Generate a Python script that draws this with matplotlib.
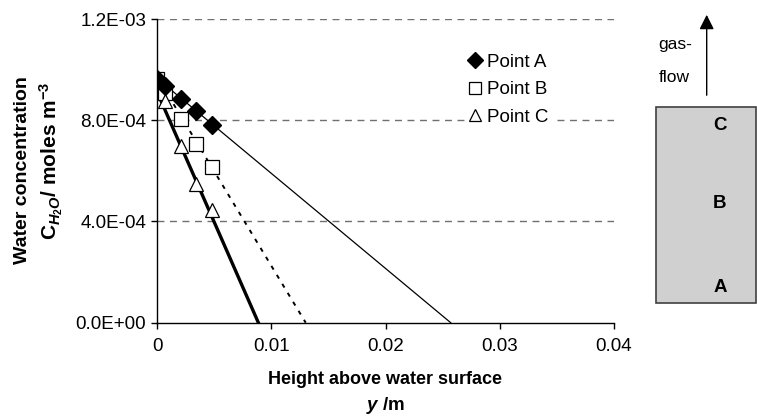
import matplotlib
matplotlib.use('Agg')
import matplotlib.pyplot as plt
import numpy as np
from matplotlib.patches import Rectangle, FancyArrowPatch

plt.rcParams['font.family'] = ['Liberation Sans', 'DejaVu Sans']
plt.rcParams['mathtext.fontset'] = 'custom'
plt.rcParams['mathtext.rm'] = 'Liberation Sans:bold'
plt.rcParams['mathtext.it'] = 'Liberation Sans:italic:bold'
plt.rcParams['mathtext.bf'] = 'Liberation Sans:bold'

# measured heights above the water surface (m)
heights = [0.0, 0.0007, 0.00205, 0.0034, 0.0048]

# water concentration at each sampling point (moles m^-3)
conc_a = [9.64e-4, 9.37e-4, 8.85e-4, 8.36e-4, 7.83e-4]
conc_b = [9.64e-4, 9.08e-4, 8.05e-4, 7.08e-4, 6.14e-4]
conc_c = [9.64e-4, 8.75e-4, 7.00e-4, 5.50e-4, 4.46e-4]

# linear fits: intercept and slope (drawn down to zero concentration)
fit_intercept = [9.65e-4, 9.70e-4, 9.10e-4]
fit_slope = [-0.03755, -0.07462, -0.1028]

series_labels = ['Point A', 'Point B', 'Point C']
y_ticks = [0.0, 4e-4, 8e-4, 1.2e-3]
y_tick_labels = ['0.0E+00', '4.0E-04', '8.0E-04', '1.2E-03']
x_ticks = [0, 0.01, 0.02, 0.03, 0.04]
x_tick_labels = ['0', '0.01', '0.02', '0.03', '0.04']

W, H = 757, 416
fig = plt.figure(figsize=(W / 100, H / 100), dpi=100)
ax = fig.add_axes([157.3 / W, 1 - 322.7 / H, (614 - 157.3) / W, (322.7 - 19) / H])

# gridlines
for yt in y_ticks[1:]:
    ax.axhline(yt, color='#707070', lw=1.0, ls=(0, (5, 4)), zorder=1)

# fit lines
styles = [dict(color='black', lw=0.9, ls='-'),
          dict(color='black', lw=1.4, ls=(0, (2.2, 3.2))),
          dict(color='black', lw=2.4, ls='-')]
for b0, m, st in zip(fit_intercept, fit_slope, styles):
    x_end = -b0 / m
    xs = np.array([0.0, x_end])
    ax.plot(xs, b0 + m * xs, zorder=2, **st)

# data points
ax.plot(heights, conc_a, ls='none', marker='D', ms=9, mfc='black', mec='black',
        label=series_labels[0], zorder=4)
ax.plot(heights, conc_b, ls='none', marker='s', ms=9.5, mfc='white', mec='black',
        mew=0.9, label=series_labels[1], zorder=3)
ax.plot(heights, conc_c, ls='none', marker='^', ms=10, mfc='white', mec='black',
        mew=0.9, label=series_labels[2], zorder=3)

ax.set_xlim(0, 0.04)
ax.set_ylim(0, 1.2e-3)
ax.set_xticks(x_ticks)
ax.set_xticklabels(x_tick_labels)
ax.set_yticks(y_ticks)
ax.set_yticklabels(y_tick_labels)
ax.tick_params(axis='both', direction='out', length=4, width=1, labelsize=13.5, color='black')
ax.tick_params(axis='y', pad=4)
ax.tick_params(axis='x', pad=7)
for s in ['top', 'right']:
    ax.spines[s].set_visible(False)
for s in ['left', 'bottom']:
    ax.spines[s].set_linewidth(1.0)

leg = ax.legend(loc='upper left', bbox_to_anchor=(465 / W, 1 - 50 / H),
                bbox_transform=fig.transFigure, frameon=True, facecolor='white',
                edgecolor='none', framealpha=1, fancybox=False, fontsize=13.5,
                handlelength=0.7, handletextpad=0.25, borderpad=0.2,
                borderaxespad=0, labelspacing=0.55, markerscale=0.85)

# axis labels
fig.text(23 / W, 1 - 170.5 / H, 'Water concentration', rotation=90, ha='center',
         va='center', fontsize=14, fontweight='bold')
fig.text(51 / W, 1 - 160.5 / H, r'C$_{H_2O}$/ moles m$^{-3}$', rotation=90,
         ha='center', va='center', fontsize=15, fontweight='bold')
fig.text(385 / W, 1 - 380 / H, 'Height above water surface', ha='center',
         va='center', fontsize=13, fontweight='bold')
fig.text(386 / W, 1 - 405 / H, r'$y$ /m', ha='center', va='center',
         fontsize=13.5, fontweight='bold')

# schematic of the column on the right
fig.patches.append(Rectangle((655.7 / W, 1 - 303.3 / H), (756 - 655.7) / W,
                             (303.3 - 106.7) / H, transform=fig.transFigure,
                             facecolor='#d0d0d0', edgecolor='#404040', lw=1.2))
for lab, yy in [('C', 125), ('B', 204), ('A', 288)]:
    fig.text(720 / W, 1 - yy / H, lab, ha='center', va='center', fontsize=13.5,
             fontweight='bold')
fig.patches.append(FancyArrowPatch((706.7 / W, 1 - 98 / H), (706.7 / W, 1 - 12 / H),
                                   transform=fig.transFigure, arrowstyle='-|>',
                                   mutation_scale=22, lw=1.0, color='black'))
fig.text(675 / W, 1 - 45 / H, 'gas-', ha='center', va='center', fontsize=12.5)
fig.text(674 / W, 1 - 77 / H, 'flow', ha='center', va='center', fontsize=12.5)

fig.savefig('out.png', dpi=100)
